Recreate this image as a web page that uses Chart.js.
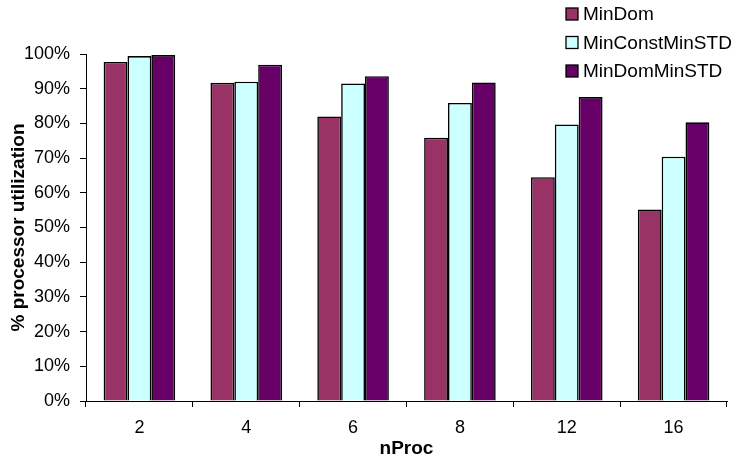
<!DOCTYPE html>
<html lang="en">
  <head>
    <meta charset="UTF-8" />
    <title>Processor utilization</title>
    <script src="https://cdn.jsdelivr.net/npm/chart.js"></script>
    <style>
      html, body { margin: 0; padding: 0; background: #fff; }
    </style>
  </head>
  <body>
    <canvas id="utilChart" width="741" height="461"></canvas>

    <script>
      const nProc = ["2", "4", "6", "8", "12", "16"];
      const minDom = [97.7, 91.7, 82.0, 75.9, 64.5, 55.2];
      const minConstMinSTD = [99.4, 92.0, 91.5, 85.9, 79.7, 70.4];
      const minDomMinSTD = [99.7, 96.9, 93.6, 91.8, 87.6, 80.3];
      const yTicks = [0, 10, 20, 30, 40, 50, 60, 70, 80, 90, 100];

      const FONT = "'Liberation Sans', Arial, sans-serif";

      // legend in the top right corner, drawn by hand so it can overlap the plot
      const cornerLegend = {
        id: "cornerLegend",
        afterDraw(chart) {
          const ctx = chart.ctx;
          ctx.save();
          ctx.font = "19px " + FONT;
          ctx.textBaseline = "middle";
          chart.data.datasets.forEach((ds, i) => {
            const y = 14 + i * 28.5;
            ctx.fillStyle = ds.backgroundColor;
            ctx.fillRect(566, y - 6, 12, 12);
            ctx.strokeStyle = "#000";
            ctx.lineWidth = 1.3;
            ctx.strokeRect(566, y - 6, 12, 12);
            ctx.fillStyle = "#000";
            ctx.fillText(ds.label, 583, y + 1);
          });
          ctx.restore();
        },
      };

      new Chart(document.getElementById("utilChart"), {
        type: "bar",
        data: {
          labels: nProc,
          datasets: [
            { label: "MinDom", data: minDom, backgroundColor: "#993366" },
            { label: "MinConstMinSTD", data: minConstMinSTD, backgroundColor: "#CCFFFF" },
            { label: "MinDomMinSTD", data: minDomMinSTD, backgroundColor: "#660066" },
          ].map((d) => ({
            ...d,
            borderColor: "#000",
            borderWidth: 1.6,
            categoryPercentage: 0.67,
            barPercentage: 1.0,
          })),
        },
        options: {
          responsive: false,
          animation: false,
          devicePixelRatio: 1,
          layout: { padding: { top: 54, right: 14, left: 0, bottom: 0 } },
          plugins: { legend: { display: false }, tooltip: { enabled: false } },
          scales: {
            x: {
              grid: { display: true, drawOnChartArea: false, tickLength: 6, color: "#000", offset: true },
              border: { color: "#000", width: 1 },
              ticks: { color: "#000", font: { family: FONT, size: 18 }, padding: 10 },
              title: {
                display: true,
                text: "nProc",
                color: "#000",
                font: { family: FONT, size: 19, weight: "bold" },
                padding: { top: 0, bottom: 1 },
              },
              afterFit(axis) { axis.height = 60; },
            },
            y: {
              min: 0,
              max: 100,
              afterBuildTicks(axis) { axis.ticks = yTicks.map((v) => ({ value: v })); },
              grid: { display: true, drawOnChartArea: false, tickLength: 6, color: "#000" },
              border: { color: "#000", width: 1 },
              ticks: {
                color: "#000",
                font: { family: FONT, size: 18 },
                padding: 10,
                callback: (v) => v + "%",
              },
              title: {
                display: true,
                text: "% processor utilization",
                color: "#000",
                font: { family: FONT, size: 19, weight: "bold" },
                padding: { top: 7, bottom: 0 },
              },
              afterFit(axis) { axis.width = 86; },
            },
          },
        },
        plugins: [cornerLegend],
      });
    </script>
  </body>
</html>
